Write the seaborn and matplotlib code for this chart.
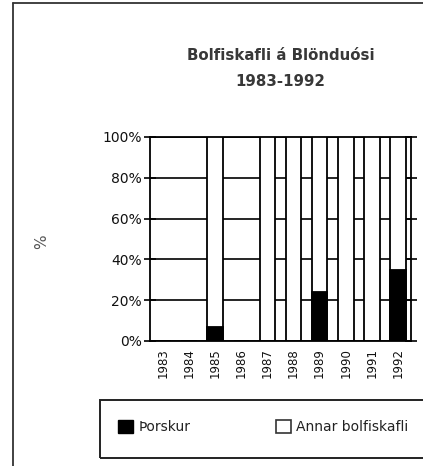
import matplotlib
matplotlib.use("Agg")
import matplotlib.pyplot as plt
from matplotlib.patches import Patch, Rectangle
from matplotlib.lines import Line2D
import seaborn as sns
import pandas as pd

# Share of cod (Þorskur) vs. other groundfish in landings, percent
years = ["1983", "1984", "1985", "1986", "1987", "1988", "1989", "1990", "1991", "1992"]
thorskur = [0, 0, 7, 0, 0, 0, 24, 0, 0, 35]
annar = [0, 0, 93, 0, 100, 100, 76, 100, 100, 65]
y_ticks = [0, 20, 40, 60, 80, 100]
y_ticklabels = ["0%", "20%", "40%", "60%", "80%", "100%"]

df = pd.DataFrame({"ar": years, "thorskur": thorskur, "annar": annar})
df["samtals"] = df["thorskur"] + df["annar"]

sns.set_theme(style="white")
plt.rcParams["font.family"] = ["DejaVu Sans"]

fig = plt.figure(figsize=(4.23, 4.66), dpi=100)
ax = fig.add_axes([150 / 423, 1 - 341 / 466, (411 - 150) / 423, (341 - 137) / 466])

# Stacked 100% bars: white total, black cod portion on top of it
sns.barplot(data=df, x="ar", y="samtals", color="white", edgecolor="black",
            linewidth=1.3, width=0.6, saturation=1, ax=ax, zorder=3)
sns.barplot(data=df, x="ar", y="thorskur", color="black", edgecolor="black",
            linewidth=1.3, width=0.6, saturation=1, ax=ax, zorder=4)

ax.set_ylim(0, 100)
ax.set_xlim(-0.5, len(years) - 0.5)
ax.set_yticks(y_ticks)
ax.set_yticklabels(y_ticklabels, fontsize=10, color="#111111")
ax.set_xticks(range(len(years)))
ax.set_xticklabels(years, rotation=90, fontsize=8.5, color="#111111")
ax.set_xticks([i - 0.5 for i in range(len(years) + 1)], minor=True)
ax.tick_params(axis="x", which="major", length=0, pad=5)
ax.tick_params(axis="x", which="minor", direction="inout", length=8, width=1.2, color="black")
ax.tick_params(axis="y", which="major", direction="inout", length=8, width=1.2,
               color="black", right=True, left=True, pad=2)
ax.set_xlabel("")
ax.set_ylabel("")

ax.set_axisbelow(True)
ax.yaxis.grid(True, color="black", linewidth=1.2)
ax.xaxis.grid(False)
for side in ["left", "right", "top", "bottom"]:
    ax.spines[side].set_visible(True)
    ax.spines[side].set_color("black")
    ax.spines[side].set_linewidth(1.3)

# Title
title_kw = dict(transform=ax.transAxes, ha="center", va="center", fontsize=10.8,
                fontweight="bold", color="#383838")
ax.text(0.5, 1 + (137 - 55) / 204, "Bolfiskafli á Blönduósi", **title_kw)
ax.text(0.5, 1 + (137 - 82) / 204, "1983-1992", **title_kw)

# Y-axis label
fig.text(42 / 423, 1 - 242 / 466, "%", rotation=90, ha="center", va="center",
         fontsize=11, color="#555555")

# Legend with its own frame
fig.add_artist(Rectangle((100 / 423, 1 - 458 / 466), 330 / 423, 58 / 466,
                         transform=fig.transFigure, fill=False, edgecolor="#222222",
                         linewidth=1.4))
handles = [Patch(facecolor="black", edgecolor="black", label="Þorskur"),
           Patch(facecolor="white", edgecolor="#333333", linewidth=1.2, label="Annar bolfiskafli")]
fig.legend(handles=handles, loc="center left", bbox_to_anchor=(118 / 423, 1 - 427 / 466),
           ncol=2, frameon=False, fontsize=10, handlelength=1.05, handleheight=1.05,
           handletextpad=0.4, columnspacing=6.2, borderpad=0, borderaxespad=0,
           labelcolor="#222222")

# Page frame lines
fig.add_artist(Line2D([13 / 423, 13 / 423], [-0.01, 1 - 3 / 466], transform=fig.transFigure,
                      color="#333333", linewidth=1.3))
fig.add_artist(Line2D([13 / 423, 1.05], [1 - 3 / 466, 1 - 3 / 466], transform=fig.transFigure,
                      color="#333333", linewidth=1.3))

fig.savefig("out.png", dpi=100, facecolor="white")
